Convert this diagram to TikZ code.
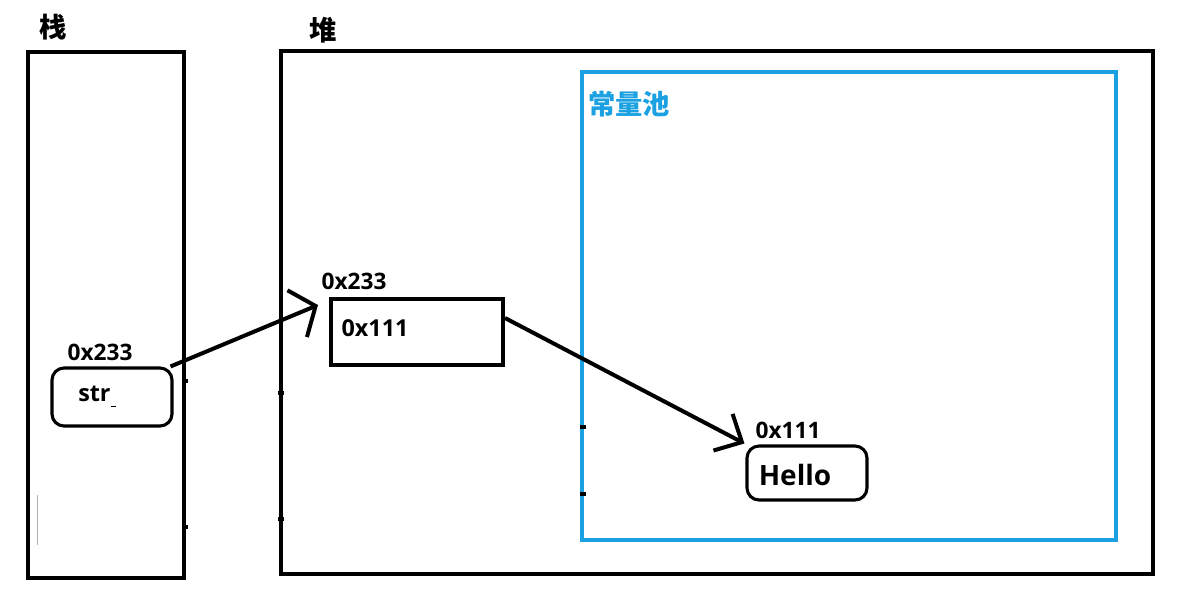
\documentclass[tikz,border=0pt]{standalone}
\usepackage{fontspec}
\setmainfont{Open Sans}
\newfontfamily\cjk{Noto Sans CJK SC}
\usetikzlibrary{arrows.meta,calc}
\definecolor{poolblue}{RGB}{27,161,226}
\begin{document}
\begin{tikzpicture}[x=0.75pt,y=-0.75pt,
  frame/.style={draw=black, line width=3pt},
  pool/.style={draw=poolblue, line width=2.8pt},
  cell/.style={draw=black, line width=2.3pt, rounded corners=9pt, inner sep=0pt},
  sqcell/.style={draw=black, line width=3pt, inner sep=0pt},
  title/.style={font=\cjk\bfseries\fontsize{20.5pt}{22pt}\selectfont, inner sep=0pt},
  addr/.style={font=\bfseries\fontsize{17pt}{19pt}\selectfont, inner sep=0pt},
  val/.style={font=\bfseries\fontsize{17.5pt}{19pt}\selectfont, inner sep=0pt},
  link/.style={line width=3pt},
  tick/.style={fill=black, inner sep=0pt, minimum width=4.5pt, minimum height=3pt}]
\useasboundingbox (0,0) rectangle (1195,604);
% containers
\node[frame, minimum width=117pt, minimum height=394.5pt, inner sep=0pt] (stack) at (106,315) {};
\node[frame, minimum width=654pt, minimum height=392pt, inner sep=0pt] (heap) at (717,312.5) {};
\node[pool, minimum width=400.5pt, minimum height=351pt, inner sep=0pt] (poolbox) at (849,306) {};
% titles
\node[title] (stacklabel) at (53,27) {栈};
\node[title] (heaplabel) at (323,30) {堆};
\node[title, text=poolblue] (poollabel) at (629,104) {常量池};
% cells
\node[cell, minimum width=90pt, minimum height=43.5pt] (strbox) at (112,397) {};
\node[sqcell, minimum width=129pt, minimum height=49.5pt] (ptrbox) at (417,332) {};
\node[cell, minimum width=90pt, minimum height=40.5pt] (hellobox) at (807,473) {};
% texts
\node[addr] (straddr) at (100,352) {0x233};
\node[val, anchor=west] (strtext) at (78,396) {str\raisebox{-4pt}{\rule{4pt}{0.6pt}}};
\node[addr] (ptraddr) at (354,281) {0x233};
\node[val] (ptrtext) at (375,328) {0x111};
\node[addr] (helloaddr) at (788,430) {0x111};
\node[font=\bfseries\fontsize{21pt}{23pt}\selectfont, inner sep=0pt] (hellotext) at (795,475) {Hello};
% connectors
\coordinate (tip1) at ($(ptrbox.north west)+(-11,8)$);
\coordinate (tip2) at ($(hellobox.north west)+(-1,-1)$);
\draw[link, -{Straight Barb[length=15pt,width=38pt,line width=3pt]}] ($(strbox.north east)+(-3,0)$) -- (tip1);
\draw[link, -{Straight Barb[length=16pt,width=31pt,line width=3pt]}] ($(ptrbox.north east)+(0,21)$) -- (tip2);
% small marks
\node[tick] (t1) at (185,381) {};
\node[tick] (t2) at (185,527) {};
\node[tick] (t3) at (281,393) {};
\node[tick] (t4) at (281,519) {};
\node[tick] (t5) at (583,427) {};
\node[tick] (t6) at (583,494) {};
\draw[gray!60, line width=0.7pt] (37,495) -- (37,545);
\end{tikzpicture}
\end{document}
